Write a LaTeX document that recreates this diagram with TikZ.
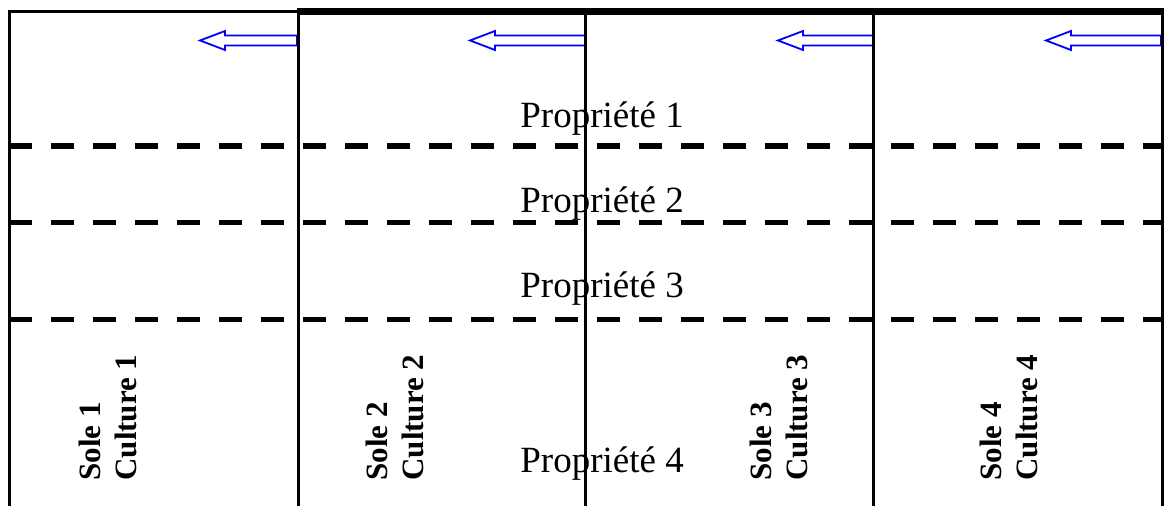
\documentclass[tikz,border=0pt]{standalone}
\usepackage{fontspec}
\setmainfont{Liberation Serif}
\tikzset{
  prop/.style={anchor=base west, inner sep=0pt, font=\fontsize{18.5}{22}\selectfont},
  solelabel/.style={rotate=90, anchor=west, align=left, inner sep=0pt,
    font=\bfseries\fontsize{15.5}{18}\selectfont},
  sepline/.style={line width=1.5pt},
  rowline/.style={line width=2.75pt, dash pattern=on 11.5pt off 9.5pt},
  flow/.style={draw=blue, line width=0.9pt, fill=white},
}
\begin{document}
\begin{tikzpicture}[x=0.5pt, y=-0.5pt]
  \useasboundingbox (0,0) rectangle (1169,506);
  % arrows
  \foreach \tip/\tail in {200/297, 470/585, 778/873, 1046/1161}
    \draw[flow] (\tail,35.5) -- ({\tip+25},35.5) -- ({\tip+25},31)
      -- (\tip,40.5) -- ({\tip+25},50) -- ({\tip+25},45.5) -- (\tail,45.5) -- cycle;
  % rows
  \foreach \y in {146, 222.5, 319.5}
    \draw[rowline] (9,\y) -- (1162,\y);
  % columns
  \draw[sepline] (9,506) -- (9,12) -- (298,12);
  \draw[line width=3.5pt] (297,11.5) -- (1163.5,11.5);
  \foreach \x in {298, 585, 873, 1162}
    \draw[sepline] (\x,11) -- (\x,506);
  % labels
  \node[prop] (p1) at (520,128) {Propriété 1};
  \node[prop] (p2) at (520,213) {Propriété 2};
  \node[prop] (p3) at (520,298) {Propriété 3};
  \node[prop] (p4) at (520,472.5) {Propriété 4};
  \node[solelabel] (sole1) at (107.5,481) {Sole 1\\Culture 1};
  \node[solelabel] (sole2) at (395,481) {Sole 2\\Culture 2};
  \node[solelabel] (sole3) at (778.5,481) {Sole 3\\Culture 3};
  \node[solelabel] (sole4) at (1009,481) {Sole 4\\Culture 4};
\end{tikzpicture}
\end{document}
